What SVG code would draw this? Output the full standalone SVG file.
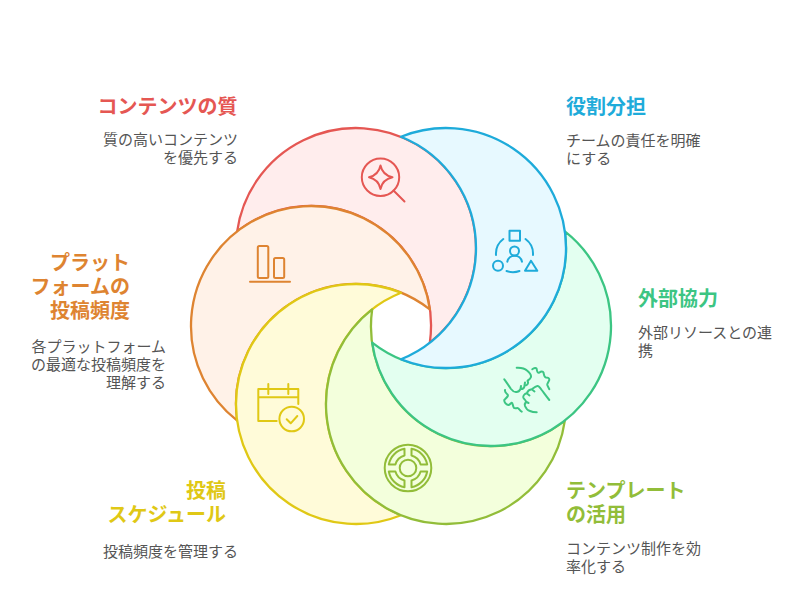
<svg xmlns="http://www.w3.org/2000/svg" width="804" height="596" viewBox="0 0 804 596">
<style>
text{font-family:"Noto Sans CJK JP","Noto Sans",sans-serif}
.h{font-size:20px;font-weight:700}
.b{font-size:15px;fill:#555}
.e{text-anchor:end}
.s{stroke-width:2.3;stroke-linejoin:round}
.i{fill:none;stroke-width:2;stroke-linecap:round;stroke-linejoin:round}
</style>
<rect width="804" height="596" fill="#fff"/>
<g id="connectors"></g>
<g id="node-red">
<path class="s" fill="#ffeded" stroke="#e55753" d="M237.16,231.38A120,120 0 1 1 429.84,342.62A120,120 0 0 0 237.16,231.38Z"/>
<g class="i" stroke="#e55753"><circle cx="380.5" cy="177.3" r="18.7"/><path d="M393.5,190.5L404.5,201.5M380.5,165.5Q382.5,175 392.5,177.3Q382.5,179.5 380.5,189Q378.5,179.5 369,177.3Q378.5,175 380.5,165.5Z"/></g>
<text class="h e" x="237.5" y="114" fill="#e55753">コンテンツの質</text>
<text class="b e" x="238" y="145">質の高いコンテンツ</text>
<text class="b e" x="238" y="163">を優先する</text>
</g>
<g id="node-orange">
<path class="s" fill="#fff2e8" stroke="#de8431" d="M237.16,420.62A120,120 0 1 1 429.84,309.38A120,120 0 0 0 237.16,420.62Z"/>
<g class="i" stroke="#de8431"><rect x="257.8" y="246" width="10.5" height="32" rx="1.5"/><rect x="274" y="258" width="10.2" height="20" rx="1.5"/><path d="M250,281.7H290"/></g>
<text class="h e" x="130" y="270" fill="#de8431">プラット</text>
<text class="h e" x="130" y="294" fill="#de8431">フォームの</text>
<text class="h e" x="130" y="318" fill="#de8431">投稿頻度</text>
<text class="b e" x="166" y="352">各プラットフォーム</text>
<text class="b e" x="166" y="370">の最適な投稿頻度を</text>
<text class="b e" x="166" y="388">理解する</text>
</g>
<g id="node-yellow">
<path class="s" fill="#fffbd9" stroke="#e0c815" d="M401,515.24A120,120 0 1 1 401,292.76A120,120 0 0 0 401,515.24Z"/>
<g class="i" stroke="#e0c815"><path d="M276.7,421H258.3V389H298.3V404M258.3,397.3H298.3M268.3,384V394M288.3,384V394M286.7,419.3L290.7,423.3L297.3,416"/><circle cx="291.7" cy="419" r="12.3"/></g>
<text class="h e" x="226" y="498" fill="#e0c815">投稿</text>
<text class="h e" x="226" y="522" fill="#e0c815">スケジュール</text>
<text class="b e" x="238" y="557">投稿頻度を管理する</text>
</g>
<g id="node-olive">
<path class="s" fill="#f3ffdc" stroke="#92bd39" d="M564.84,420.62A120,120 0 1 1 372.16,309.38A120,120 0 0 0 564.84,420.62Z"/>
<g class="i" stroke="#92bd39"><circle cx="408" cy="468" r="23.3"/><circle cx="408" cy="468" r="8.3"/>
<path d="M404.5,448.8A19.5,19.5 0 0 0 388.8,464.5H395.4A13,13 0 0 1 404.5,455.5Z"/>
<path d="M411.5,448.8A19.5,19.5 0 0 1 427.2,464.5H420.6A13,13 0 0 0 411.5,455.5Z"/>
<path d="M404.5,487.2A19.5,19.5 0 0 1 388.8,471.5H395.4A13,13 0 0 0 404.5,480.5Z"/>
<path d="M411.5,487.2A19.5,19.5 0 0 0 427.2,471.5H420.6A13,13 0 0 1 411.5,480.5Z"/></g>
<text class="h" x="566" y="498" fill="#92bd39">テンプレート</text>
<text class="h" x="566" y="522" fill="#92bd39">の活用</text>
<text class="b" x="566" y="554">コンテンツ制作を効</text>
<text class="b" x="566" y="572">率化する</text>
</g>
<g id="node-green">
<path class="s" fill="#e3fff0" stroke="#3cc583" d="M564.84,231.38A120,120 0 1 1 372.16,342.62A120,120 0 0 0 564.84,231.38Z"/>
<g class="i" stroke="#3cc583">
<path d="M516.7,367.7C521,367.5 525,368.5 527,370.5C530,373 531.5,376 530.7,377.5C530,379.5 528,380 527.5,381C529,383 527,386 524.5,385.5L525,382.5M524.5,385.5C524.5,388 522.5,389.5 520.5,389L521,386M520.5,389C519.5,391 518,392 516.5,392C514,392.5 513,391.5 511,389C508.5,385.5 506,381.5 504.3,379.3"/>
<path d="M532.3,369.3C534,368 536.5,367.5 536.7,369C537,372 538,373.5 539.5,372.5C541,371 543,371 543.5,372.5C544,375 544,377 546,377.5C548,377.5 549.5,378 549.3,380C548.5,382 547,383.5 547.3,385C548,387 549,388 549.3,389.3"/>
<path d="M549.3,400C546,396 544,393 541.7,390C540,387.5 538.5,385.5 537.3,386C535,386.5 533.5,388 531.7,389.3L534.5,391.5M531.7,389.3C529,389.5 527.5,391.5 526.7,393.3L529.5,395.5M526.7,393.3C524.5,394 523,396 523.3,397.5C524,399.5 526,400 526,401.7L528.5,403M526,401.7C525,403 524.5,404.5 525,406C526,408.5 528,410.5 530,411C532,412 534.5,412.3 536.7,412.3"/>
<path d="M505,390C504.5,392 506,393 507.5,394.5C509,396 506,398 504.3,400C504,402 506,404.5 508.3,405C510,405 510.5,403 511.7,402.7C513,403 512.5,406 514,408C515.5,409 517,407.5 518.3,408.3C519.5,409 520,411 521.7,411.7"/>
</g>
<text class="h" x="638" y="306" fill="#3cc583">外部協力</text>
<text class="b" x="638" y="338">外部リソースとの連</text>
<text class="b" x="638" y="356">携</text>
</g>
<g id="node-blue">
<path class="s" fill="#e7f9ff" stroke="#1eabda" d="M401,136.76A120,120 0 1 1 401,359.24A120,120 0 0 0 401,136.76Z"/>
<g class="i" stroke="#1eabda"><rect x="509.5" y="230.7" width="10.5" height="10"/><circle cx="514.5" cy="251" r="4.5"/><circle cx="498" cy="265.7" r="5"/><path d="M507.3,261.7A7.5,7.5 0 0 1 522,261.7M531,260.7L525,270.7H537.3ZM503.3,239A18.5,18.5 0 0 0 496,255M525.5,239A18.5,18.5 0 0 1 533,255M506.5,271A18.5,18.5 0 0 0 519.5,271"/></g>
<text class="h" x="566" y="114" fill="#1eabda">役割分担</text>
<text class="b" x="566" y="146">チームの責任を明確</text>
<text class="b" x="566" y="164">にする</text>
</g>
</svg>
